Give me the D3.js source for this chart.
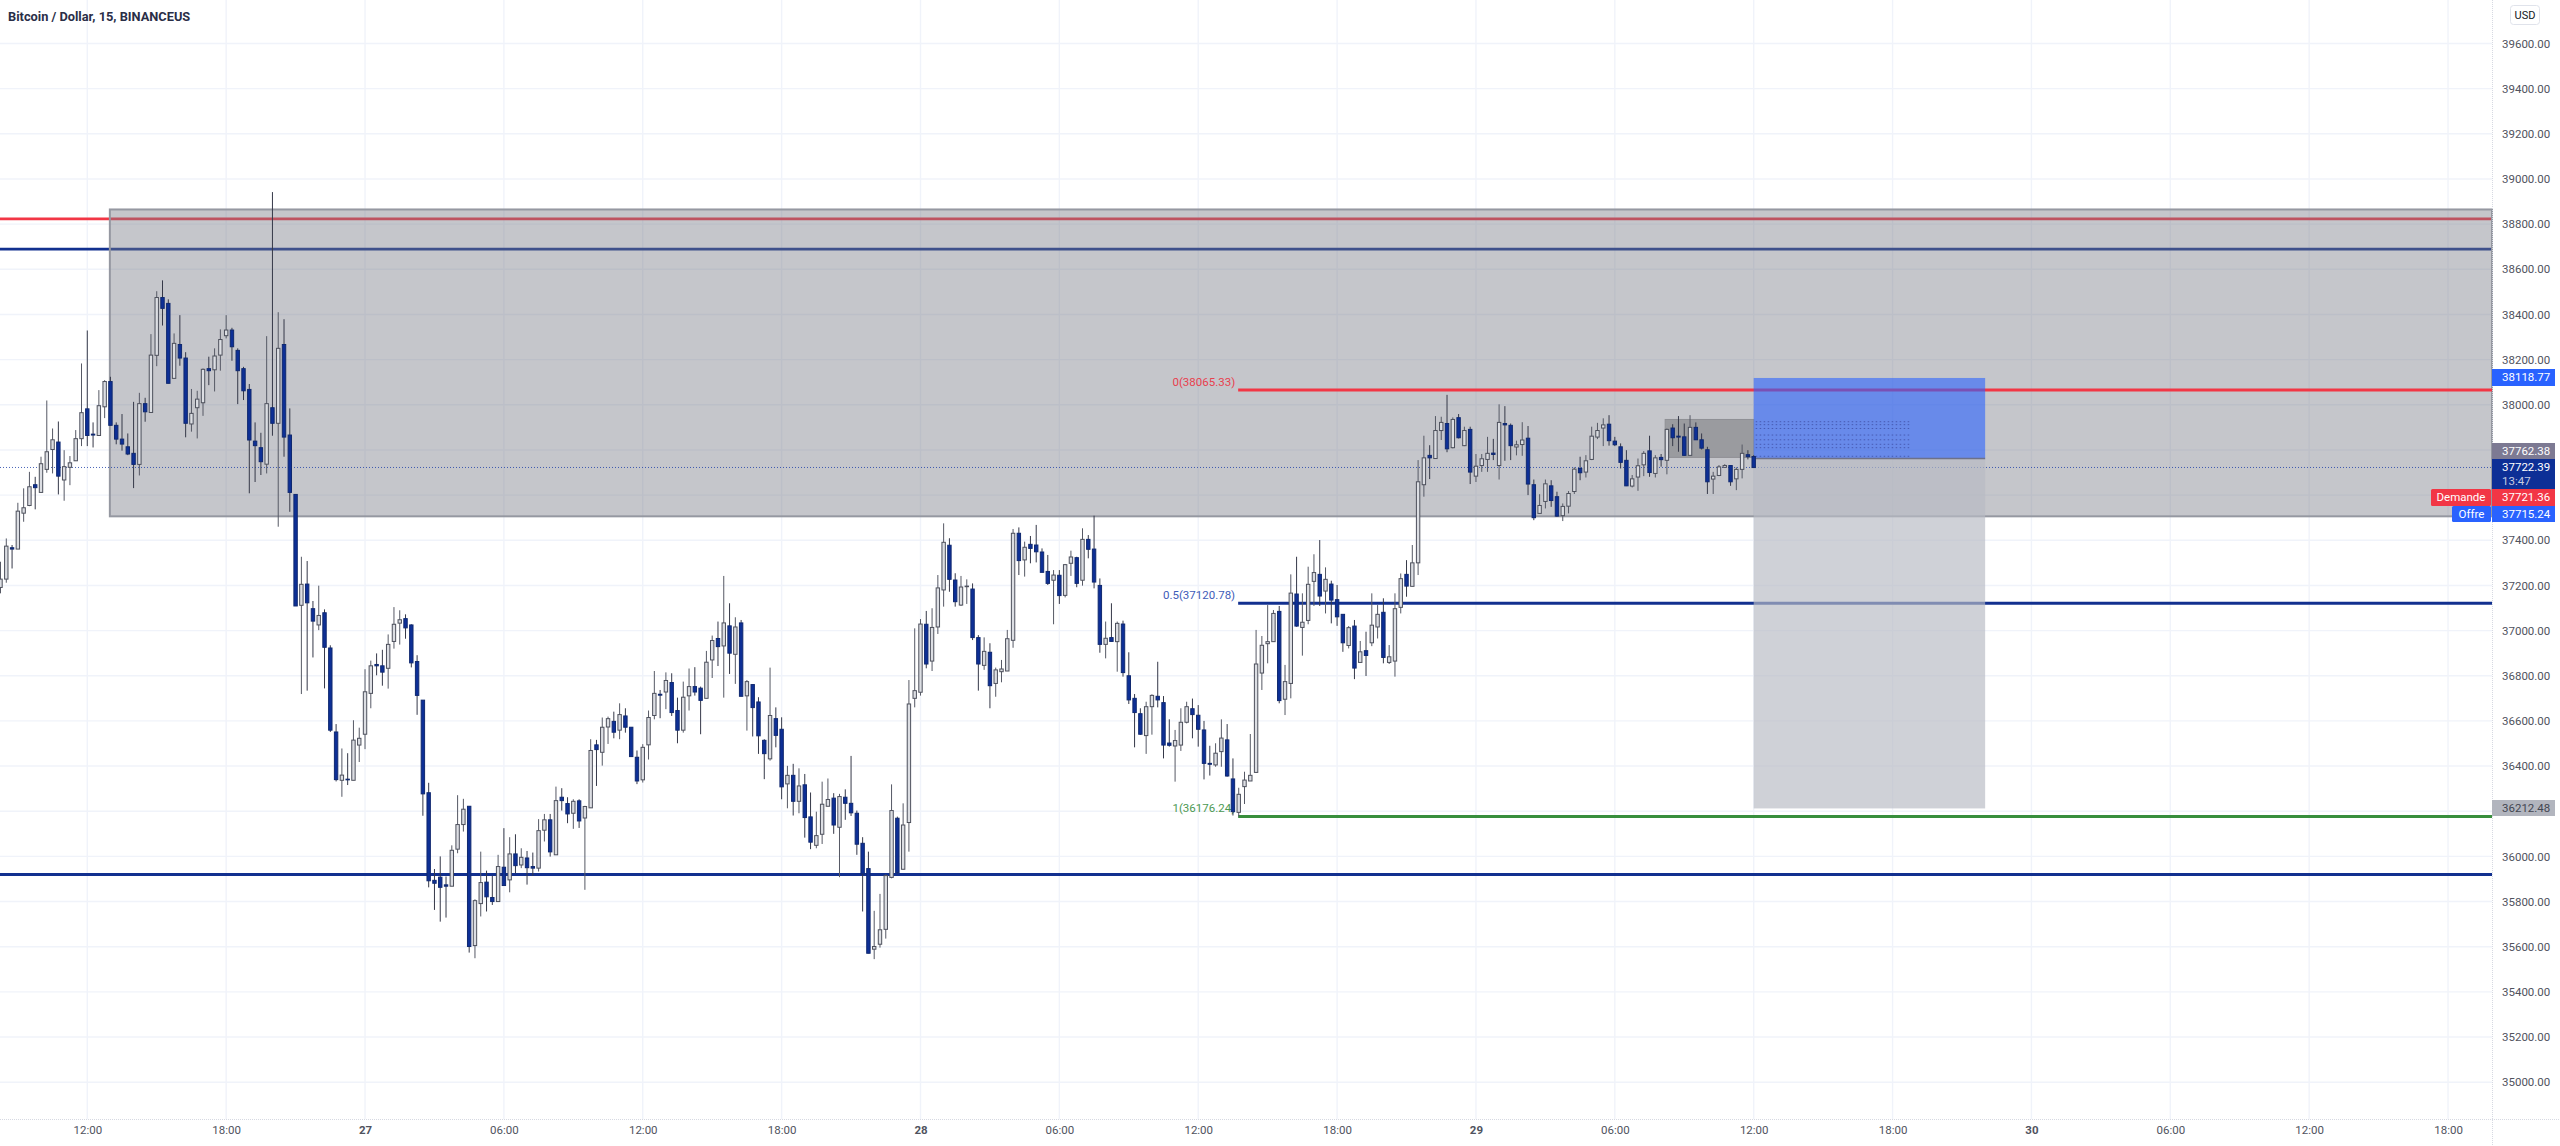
<!DOCTYPE html>
<html><head><meta charset="utf-8">
<script src="https://cdnjs.cloudflare.com/ajax/libs/d3/7.8.5/d3.min.js"></script>
<style>html,body{margin:0;padding:0;background:#fff}svg{display:block}
text{font-family:Roboto,sans-serif}</style></head><body><svg id="c" width="2560" height="1146"></svg>
<script>
const title = "Bitcoin / Dollar, 15, BINANCEUS";
const opens = [37191,37228,37367,37361,37520,37554,37646,37612,37714,37802,
37835,37667,37723,37752,37850,37982,37870,37864,37991,38103,
37909,37848,37814,37785,37736,38005,37966,38219,38475,38449,
38117,38267,38207,37915,37987,38009,38160,38155,38220,38306,
38331,38241,38160,38068,37839,37810,37737,37987,37918,38267,
37866,37603,37112,37206,37097,37025,37079,36923,36551,36337,
36342,36337,36493,36541,36722,36850,36844,36833,36952,37033,
37053,37025,36863,36692,36282,35894,35908,35874,35868,36032,
36141,36222,35605,35791,35886,35818,35800,35952,35896,36011,
35962,35993,35955,35948,36116,36162,36007,36262,36234,36191,
36246,36170,36215,36494,36461,36573,36598,36559,36622,36572,
36439,36339,36494,36624,36718,36728,36770,36646,36559,36711,
36752,36745,36700,36870,36965,36932,37021,36895,37034,36711,
36761,36684,36514,36432,36610,36563,36321,36359,36244,36317,
36175,36049,36098,36222,36258,36129,36262,36235,36191,36058,
35946,35589,35611,35677,35907,36169,35943,36150,36700,36727,
37028,36865,37016,37180,37378,37224,37113,37195,37184,36969,
36846,36904,36766,36818,36821,36957,37431,37313,37382,37379,
37348,37262,37223,37245,37156,37298,37323,37223,37404,37361,
37200,36939,36969,36951,37029,36800,36700,36632,36535,36663,
36709,36681,36502,36489,36493,36594,36654,36625,36560,36412,
36405,36464,36516,36343,36195,36309,36334,36372,36812,36942,
36951,37085,36696,36766,37162,37014,37045,37218,37249,37175,
37206,37137,37072,36934,37020,36859,36911,36946,37016,37081,
36859,36865,37103,37249,37196,37300,37646,37776,37762,37886,
37917,37810,37943,37819,37891,37684,37731,37758,37786,37731,
37917,37909,37813,37824,37852,37646,37519,37572,37641,37593,
37509,37551,37616,37718,37702,37758,37857,37897,37914,37839,
37814,37754,37640,37680,37734,37796,37696,37767,37754,37897,
37861,37858,37776,37900,37845,37801,37671,37687,37723,37731,
37672,37714,37779,37771];
const closes = [37228,37374,37361,37529,37544,37637,37633,37739,37792,37845,
37684,37726,37743,37850,37965,37864,37866,37996,38103,37909,
37848,37826,37782,37736,38005,37969,38220,38475,38427,38095,
38272,38207,37918,37962,38025,38157,38151,38216,38289,38331,
38257,38151,38062,37844,37819,37748,38005,37918,38250,37857,
37612,37109,37205,37123,37042,37067,36926,36559,36340,36360,
36339,36515,36523,36729,36844,36844,36816,36939,37028,37048,
37012,36857,36713,36277,35892,35881,35863,35868,36027,36141,
36209,35601,35804,35884,35821,35800,35955,35871,36011,35959,
35996,35950,35948,36114,36162,36020,36247,36247,36188,36244,
36157,36221,36469,36473,36572,36610,36550,36628,36572,36442,
36334,36483,36615,36722,36714,36779,36637,36559,36705,36752,
36728,36691,36860,36956,36929,37034,36900,37016,36709,36774,
36659,36534,36455,36624,36536,36308,36359,36244,36312,36172,
36063,36092,36231,36252,36139,36265,36235,36193,36054,35922,
35571,35601,35675,35915,36203,35928,36139,36675,36734,37029,
36852,37014,37189,37391,37227,37128,37193,37197,36969,36852,
36908,36756,36826,36830,36964,37431,37310,37369,37364,37349,
37258,37209,37246,37155,37292,37326,37209,37404,37360,37215,
36939,36966,36952,37032,36814,36693,36637,36541,36663,36713,
36693,36493,36492,36513,36594,36663,36628,36563,36412,36408,
36457,36524,36356,36198,36275,36338,36359,36852,36935,36951,
37076,36690,36774,37166,37020,37037,37205,37257,37153,37227,
37135,37061,36946,37013,36834,36906,36890,37024,37072,36881,
36884,37097,37230,37197,37300,37659,37765,37765,37886,37922,
37805,37935,37854,37886,37702,37728,37761,37785,37780,37922,
37911,37819,37823,37844,37649,37500,37554,37650,37576,37507,
37550,37607,37715,37699,37752,37861,37886,37911,37841,37823,
37745,37641,37672,37730,37785,37700,37765,37757,37891,37854,
37857,37776,37900,37845,37808,37659,37684,37725,37731,37659,
37714,37785,37770,37722];
const highs = [37305,37408,37379,37566,37630,37703,37681,37770,38019,37895,
37926,37799,37773,37888,38183,38329,37922,38065,38109,38124,
37922,37959,37873,38013,38053,38031,38313,38503,38551,38467,
38316,38397,38233,38070,38062,38161,38213,38250,38334,38397,
38341,38250,38168,38092,37922,37876,38304,38942,38410,38379,
37984,37603,37327,37308,37131,37199,37094,36935,36586,36478,
36457,36603,36570,36829,36867,36899,36915,36983,37104,37090,
37072,37028,36891,36692,36326,35944,36000,35911,36049,36271,
36255,36222,35810,36021,35937,35915,36007,36125,36085,36098,
36036,36024,36017,36165,36188,36188,36309,36302,36262,36253,
36253,36224,36519,36516,36615,36619,36641,36678,36656,36572,
36469,36497,36646,36821,36737,36815,36811,36703,36774,36832,
36838,36752,36910,36978,37040,37242,37121,37059,37047,36781,
36761,36705,36519,36836,36660,36616,36401,36410,36390,36365,
36283,36198,36331,36345,36280,36277,36297,36445,36203,36085,
36021,35759,35834,35920,36319,36176,36235,36781,37010,37051,
37087,37099,37246,37475,37409,37254,37242,37227,37209,36980,
36970,36944,36836,36870,37003,37450,37457,37394,37419,37468,
37364,37335,37268,37268,37295,37354,37327,37453,37423,37509,
37231,37040,37121,37040,37044,36904,36719,36656,36685,36718,
36862,36710,36607,36560,36656,36685,36699,36670,36600,36490,
36501,36607,36586,36434,36304,36375,36542,37003,36976,37113,
37091,37109,36848,37249,37327,37165,37283,37338,37401,37280,
37221,37202,37072,37020,37047,36954,36995,37165,37113,37143,
36936,37165,37253,37312,37379,37755,37863,37821,37950,37947,
38044,37944,37959,37903,37903,37782,37782,37858,37849,38002,
37994,37917,37841,37923,37906,37669,37604,37669,37666,37615,
37563,37618,37723,37770,37777,37903,37920,37940,37954,37858,
37829,37799,37689,37762,37795,37863,37777,37782,37895,37914,
37950,37917,37954,37922,37873,37814,37703,37733,37737,37731,
37723,37824,37799,37777];
const lows = [37165,37212,37275,37361,37482,37551,37537,37612,37699,37696,
37603,37575,37644,37752,37817,37817,37811,37864,37941,37909,
37825,37797,37777,37631,37687,37925,37966,38171,38351,38095,
38117,38173,37856,37881,37851,37951,38087,38059,38151,38294,
38195,38003,38021,37608,37658,37689,37696,37863,37460,37770,
37526,37109,36719,36734,36881,37002,36744,36551,36332,36264,
36316,36337,36418,36475,36656,36802,36756,36743,36920,36938,
36964,36837,36627,36180,35863,35763,35711,35729,35868,36014,
36110,35574,35549,35734,35756,35785,35800,35869,35841,35925,
35948,35875,35914,35933,36066,35999,36007,36203,36147,36122,
36126,35852,36215,36312,36402,36498,36523,36519,36548,36442,
36320,36327,36429,36607,36612,36652,36622,36501,36548,36646,
36712,36541,36700,36790,36843,36703,36808,36764,36709,36557,
36531,36454,36342,36424,36483,36253,36213,36181,36191,36083,
36032,36036,36055,36222,36100,35908,36162,36179,36007,35756,
35571,35545,35596,35636,35903,35925,35943,36021,36660,36712,
36833,36821,36985,37106,37172,37106,37109,37118,36958,36734,
36826,36656,36707,36771,36821,36924,37246,37239,37298,37302,
37258,37202,37028,37118,37147,37242,37192,37199,37320,37187,
36902,36877,36951,36818,36796,36675,36483,36538,36454,36539,
36660,36434,36486,36331,36467,36589,36523,36486,36341,36358,
36397,36397,36353,36181,36176,36232,36334,36371,36737,36855,
36951,36678,36626,36700,37017,36889,37028,37109,37109,37076,
37032,37021,36906,36921,36785,36859,36799,36931,36965,36855,
36852,36796,37076,37150,37196,37246,37593,37671,37762,37844,
37790,37807,37851,37817,37649,37658,37703,37703,37755,37669,
37752,37755,37776,37774,37600,37489,37519,37541,37548,37504,
37485,37519,37605,37666,37678,37755,37848,37817,37819,37817,
37718,37640,37634,37619,37684,37681,37678,37726,37692,37817,
37792,37774,37774,37844,37802,37605,37605,37684,37720,37641,
37622,37674,37758,37722];

const priceTicks = [39600,39400,39200,39000,38800,38600,38400,38200,38000,37400,37200,37000,36800,36600,36400,36000,35800,35600,35400,35200,35000];
const gridPrices = d3.range(35000, 39601, 200);
const timeLabels = ["12:00","18:00","27","06:00","12:00","18:00","28","06:00","12:00","18:00","29","06:00","12:00","18:00","30","06:00","12:00","18:00"];
const timeBars = [15,39,63,87,111,135,159,183,207,231,255,279,303,327,351,375,399,423];
const dayLabels = ["27","28","29","30"];

const hLevels = [38823, 38689];
const lowerLevel = 35920;
const zone = {from: 18.9, top: 38865, bottom: 37506};
const fibStart = 213.9;
const fibValues = [38065.33, 37120.78, 36176.24];
const fibNames = ["0(38065.33)", "0.5(37120.78)", "1(36176.24)"];
const fibColors = ["#f23645", "#12308f", "#388e3c"];
const fibTextColors = ["#e8404e", "#3f5cb8", "#4d9952"];
const position = {from: 303, to: 343, entry: 37762.38, target: 38118.77, stop: 36212.48};
const noteBox = {from: 287.7, to: 303, top: 37935, bottom: 37767};
const noteRows = [37925, 37912, 37895, 37866, 37845, 37825, 37810, 37772];
const lastPrice = 37722.39;

const BLUE = "#2962ff", NAVY = "#0d2f96", RED = "#f23645";
const svg = d3.select("#c");
const W = 2492, B = 1119;
const x = d3.scaleLinear().domain([0, 430.6]).range([0.5, W]);
const y = d3.scaleLinear().domain([39600, 35000]).range([43.5, 1082.2]);

// grid
const grid = svg.append("g").attr("stroke", "#f0f3fa").attr("stroke-width", 1.4);
grid.selectAll(".h").data(gridPrices).join("line").attr("x1", 0).attr("x2", W).attr("y1", d => y(d)).attr("y2", d => y(d));
grid.selectAll(".v").data(timeBars).join("line").attr("y1", 0).attr("y2", B).attr("x1", d => x(d)).attr("x2", d => x(d));

// upper horizontal levels (under the zone)
const levelColors = [RED, "#12308f"];
svg.append("g").selectAll("line").data(hLevels).join("line")
  .attr("x1", 0).attr("x2", W).attr("y1", d => y(d)).attr("y2", d => y(d))
  .attr("stroke", (d, i) => levelColors[i]).attr("stroke-width", 2.8);

// zone
svg.append("rect").attr("x", x(zone.from)).attr("y", y(zone.top)).attr("width", W - x(zone.from))
  .attr("height", y(zone.bottom) - y(zone.top)).attr("fill", "rgba(120,123,134,.43)")
  .attr("stroke", "#9598a1").attr("stroke-width", 2);

// lower level
svg.append("line").attr("x1", 0).attr("x2", W).attr("y1", y(lowerLevel)).attr("y2", y(lowerLevel))
  .attr("stroke", "#12308f").attr("stroke-width", 3);

// fib lines and labels
svg.append("g").selectAll("line").data(fibValues).join("line")
  .attr("x1", x(fibStart)).attr("x2", W).attr("y1", d => y(d)).attr("y2", d => y(d))
  .attr("stroke", (d, i) => fibColors[i]).attr("stroke-width", 3);
svg.append("g").selectAll("text").data(fibValues).join("text")
  .attr("x", x(fibStart) - 3).attr("y", d => y(d) - 8).attr("text-anchor", "end")
  .attr("font-size", 11.5).attr("dy", "0.32em").attr("fill", (d, i) => fibTextColors[i]).text((d, i) => fibNames[i]);

// last-price dotted line
svg.append("line").attr("x1", 0).attr("x2", W).attr("y1", y(lastPrice)).attr("y2", y(lastPrice))
  .attr("stroke", "#1c3fa8").attr("stroke-width", 1).attr("stroke-dasharray", "1 2").attr("opacity", .8);

// note box left of the position
svg.append("rect").attr("x", x(noteBox.from)).attr("y", y(noteBox.top)).attr("width", x(noteBox.to) - x(noteBox.from))
  .attr("height", y(noteBox.bottom) - y(noteBox.top)).attr("fill", "#9a9b9f").attr("stroke", "#8f9095").attr("stroke-width", 1);

// position boxes
const px0 = x(position.from), pw = x(position.to) - x(position.from);
svg.append("rect").attr("x", px0).attr("y", y(position.target)).attr("width", pw)
  .attr("height", y(position.entry) - y(position.target)).attr("fill", "rgba(41,98,255,.6)");
svg.append("rect").attr("x", px0).attr("y", y(position.entry)).attr("width", pw)
  .attr("height", y(position.stop) - y(position.entry)).attr("fill", "rgba(184,186,195,.67)");
svg.append("line").attr("x1", px0).attr("x2", px0 + pw).attr("y1", y(position.entry)).attr("y2", y(position.entry))
  .attr("stroke", "#6d7189").attr("stroke-width", 1.5);
svg.append("g").selectAll("line").data(noteRows).join("line")
  .attr("x1", px0 + 2).attr("x2", px0 + 157).attr("y1", d => y(d)).attr("y2", d => y(d))
  .attr("stroke", "rgba(60,75,160,.75)").attr("stroke-width", 1).attr("stroke-dasharray", "1.5 2.5");

// candles
const bars = d3.range(opens.length);
const cg = svg.append("g");
cg.selectAll(".w").data(bars).join("line")
  .attr("x1", d => x(d)).attr("x2", d => x(d)).attr("y1", d => y(highs[d])).attr("y2", d => y(lows[d]))
  .attr("stroke", d => closes[d] >= opens[d] ? "#565965" : "#353848").attr("stroke-width", 1);
cg.selectAll(".b").data(bars).join("rect")
  .attr("x", d => x(d) - 1.7).attr("width", 3.4)
  .attr("y", d => y(Math.max(opens[d], closes[d])))
  .attr("height", d => Math.max(0.6, Math.abs(y(opens[d]) - y(closes[d]))))
  .attr("fill", d => closes[d] >= opens[d] ? "#dcdee3" : NAVY)
  .attr("stroke", d => closes[d] >= opens[d] ? "#4d505c" : "#10296f").attr("stroke-width", 1);

// axes
const yAxis = d3.axisRight(y).tickValues(priceTicks).tickSize(0).tickPadding(10).tickFormat(d3.format(".2f"));
const ga = svg.append("g").attr("transform", `translate(${W},0)`).call(yAxis);
ga.select(".domain").remove();
ga.selectAll("text").attr("font-family", "Roboto,sans-serif").attr("font-size", 11.5).attr("fill", "#50535e");
const xAxis = d3.axisBottom(x).tickValues(timeBars).tickSize(0).tickPadding(7)
  .tickFormat((d, i) => timeLabels[i]);
const gx = svg.append("g").attr("transform", `translate(0,${B})`).call(xAxis);
gx.select(".domain").remove();
gx.selectAll("text").attr("font-family", "Roboto,sans-serif").attr("font-size", 11.5).attr("fill", "#50535e")
  .attr("font-weight", (d, i) => dayLabels.includes(timeLabels[i]) ? 700 : 400);
svg.append("line").attr("x1", 0).attr("x2", 2560).attr("y1", B + .5).attr("y2", B + .5)
  .attr("stroke", "#d6d9e2").attr("stroke-dasharray", "1 1");
svg.append("line").attr("x1", W + .5).attr("x2", W + .5).attr("y1", 0).attr("y2", 1146)
  .attr("stroke", "#d6d9e2").attr("stroke-dasharray", "1 1");

// price tags
const tags = [
  {price: 38118.77, top: 369, h: 17, fill: BLUE, ink: "#fff"},
  {price: 37762.38, top: 443, h: 16, fill: "#7d7a93", ink: "#fff"},
  {price: 37722.39, top: 459, h: 30, fill: NAVY, ink: "#fff", sub: "13:47"},
  {price: 37721.36, top: 489, h: 17, fill: RED, ink: "#fff", side: "Demande", sideLeft: 2431},
  {price: 37715.24, top: 506, h: 16, fill: BLUE, ink: "#fff", side: "Offre", sideLeft: 2452},
  {price: 36212.48, top: 800, h: 16, fill: "#b2b5be", ink: "#434651"}
];
const tg = svg.append("g").selectAll("g").data(tags).join("g");
tg.append("rect").attr("x", W).attr("y", d => d.top).attr("width", 63).attr("height", d => d.h).attr("fill", d => d.fill);
tg.append("text").attr("x", W + 10).attr("y", d => d.top + 8.5).attr("dy", "0.32em").attr("font-size", 11.5)
  .attr("fill", d => d.ink).text(d => d3.format(".2f")(d.price));
tg.filter(d => d.sub).append("text").attr("x", W + 10).attr("y", d => d.top + 22).attr("dy", "0.32em")
  .attr("font-size", 11.5).attr("fill", "#c5cbe0").text(d => d.sub);
const side = tg.filter(d => d.side);
side.append("rect").attr("x", d => d.sideLeft).attr("y", d => d.top).attr("width", d => W - 1 - d.sideLeft)
  .attr("height", d => d.h).attr("rx", 1.5).attr("fill", d => d.fill);
side.append("text").attr("x", d => (d.sideLeft + W - 1) / 2).attr("y", d => d.top + 8.5).attr("dy", "0.32em")
  .attr("text-anchor", "middle").attr("font-size", 11.5).attr("fill", "#fff").text(d => d.side);

// header
svg.append("text").attr("x", 8).attr("y", 21).attr("font-size", 12.8).attr("font-weight", 700).attr("fill", "#2a2e47").text(title);
svg.append("rect").attr("x", 2510.5).attr("y", 5.5).attr("width", 29).attr("height", 19).attr("rx", 3)
  .attr("fill", "#fff").attr("stroke", "#e0e3eb");
svg.append("text").attr("x", 2525).attr("y", 15).attr("dy", "0.34em").attr("text-anchor", "middle")
  .attr("font-size", 11).attr("fill", "#131722").text("USD");
</script></body></html>
